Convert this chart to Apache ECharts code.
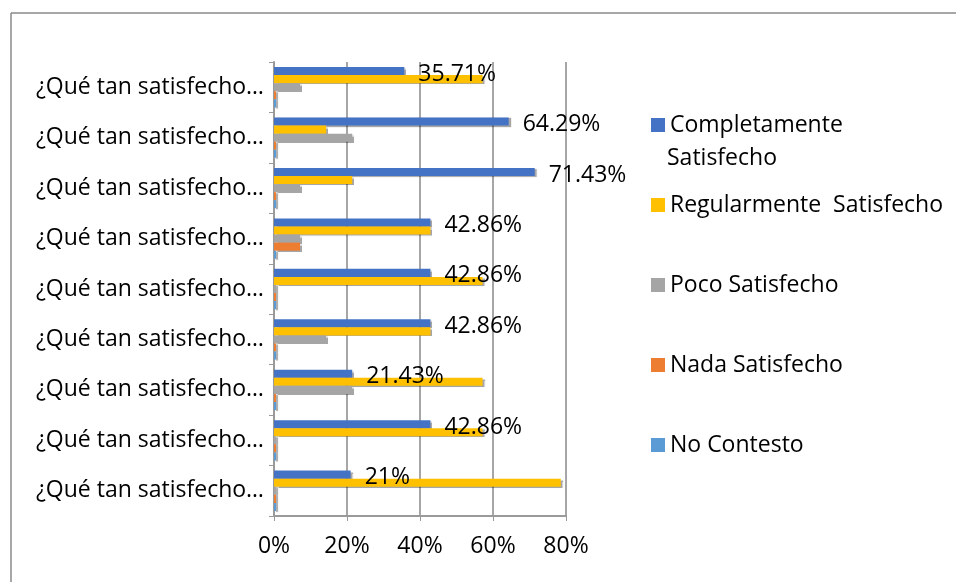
<!DOCTYPE html>
<html>
<head>
<meta charset="utf-8">
<script src="https://cdn.jsdelivr.net/npm/echarts@6/dist/echarts.min.js"></script>
<style>
  html, body { margin: 0; padding: 0; background: #fff; }
  #chart { width: 956px; height: 582px; }
</style>
</head>
<body>
<div id="chart"></div>
<script>
// categorías (de arriba hacia abajo)
const categories = [
  '¿Qué tan satisfecho…', '¿Qué tan satisfecho…', '¿Qué tan satisfecho…',
  '¿Qué tan satisfecho…', '¿Qué tan satisfecho…', '¿Qué tan satisfecho…',
  '¿Qué tan satisfecho…', '¿Qué tan satisfecho…', '¿Qué tan satisfecho…'
];
const seriesNames = ['Completamente Satisfecho', 'Regularmente  Satisfecho', 'Poco Satisfecho', 'Nada Satisfecho', 'No Contesto'];
const completamente = [35.71, 64.29, 71.43, 42.86, 42.86, 42.86, 21.43, 42.86, 21];
const regularmente = [57.14, 14.29, 21.43, 42.86, 57.14, 42.86, 57.14, 57.14, 78.57];
const poco = [7.14, 21.43, 7.14, 7.14, 0, 14.29, 21.43, 0, 0];
const nada = [0, 0, 0, 7.14, 0, 0, 0, 0, 0];
const noContesto = [0, 0, 0, 0, 0, 0, 0, 0, 0];
const xTicks = [0, 20, 40, 60, 80];

const colors = ['#4472C4', '#FFC000', '#A5A5A5', '#ED7D31', '#5B9BD5'];
const FONT = '"Open Sans"';
const FS = 23;

const chart = echarts.init(document.getElementById('chart'));

const values = [completamente, regularmente, poco, nada, noContesto];
const series = values.map((vals, i) => ({
  name: seriesNames[i],
  type: 'bar',
  data: vals,
  barGap: '0%',
  barCategoryGap: '20%',
  barMinHeight: 2,
  itemStyle: {
    color: colors[i],
    shadowColor: 'rgba(0,0,0,0.35)',
    shadowOffsetX: 2,
    shadowOffsetY: 1,
    shadowBlur: 1
  },
  label: i === 0 ? {
    show: true,
    position: 'right',
    distance: 14,
    offset: [0, 3],
    formatter: p => p.value + '%',
    fontFamily: FONT,
    fontSize: FS,
    color: '#000'
  } : { show: false }
}));

chart.setOption({
  animation: false,
  color: colors,
  textStyle: { fontFamily: FONT },
  grid: { left: 274, right: 390, top: 62, bottom: 66 },
  legend: {
    orient: 'vertical',
    left: 646,
    top: 108,
    itemWidth: 14,
    itemHeight: 14,
    itemGap: 56,
    icon: 'rect',
    data: seriesNames,
    formatter: name => name === seriesNames[0] ? 'Completamente' : name,
    textStyle: { fontFamily: FONT, fontSize: FS, color: '#000', lineHeight: 24 }
  },
  xAxis: {
    type: 'value',
    min: xTicks[0],
    max: xTicks[xTicks.length - 1],
    interval: 20,
    axisLabel: {
      formatter: '{value}%',
      fontFamily: FONT,
      fontSize: FS,
      color: '#000',
      margin: 19
    },
    axisLine: { show: true, lineStyle: { color: '#9a9a9a', width: 2 } },
    axisTick: { show: true, length: 5, lineStyle: { color: '#9a9a9a' } },
    splitLine: { show: true, lineStyle: { color: '#a6a6a6', width: 2 } }
  },
  yAxis: {
    type: 'category',
    inverse: true,
    data: categories,
    axisLabel: {
      fontFamily: FONT,
      fontSize: FS,
      color: '#000',
      margin: 10
    },
    axisLine: { show: true, lineStyle: { color: '#9a9a9a', width: 2 } },
    axisTick: { show: true, length: 5, lineStyle: { color: '#9a9a9a' } }
  },
  graphic: [
    // borde del área del gráfico (solo arriba e izquierda visibles)
    { type: 'line', shape: { x1: 11, y1: 13, x2: 956, y2: 13 }, style: { stroke: '#8a8a8a', lineWidth: 1.5 } },
    { type: 'line', shape: { x1: 11, y1: 13, x2: 11, y2: 582 }, style: { stroke: '#8a8a8a', lineWidth: 1.5 } },
    // segunda línea de la primera entrada de la leyenda
    { type: 'text', left: 667, top: 147, style: { text: 'Satisfecho', font: FS + 'px ' + FONT, fill: '#000' } }
  ],
  series: series
});
</script>
</body>
</html>
